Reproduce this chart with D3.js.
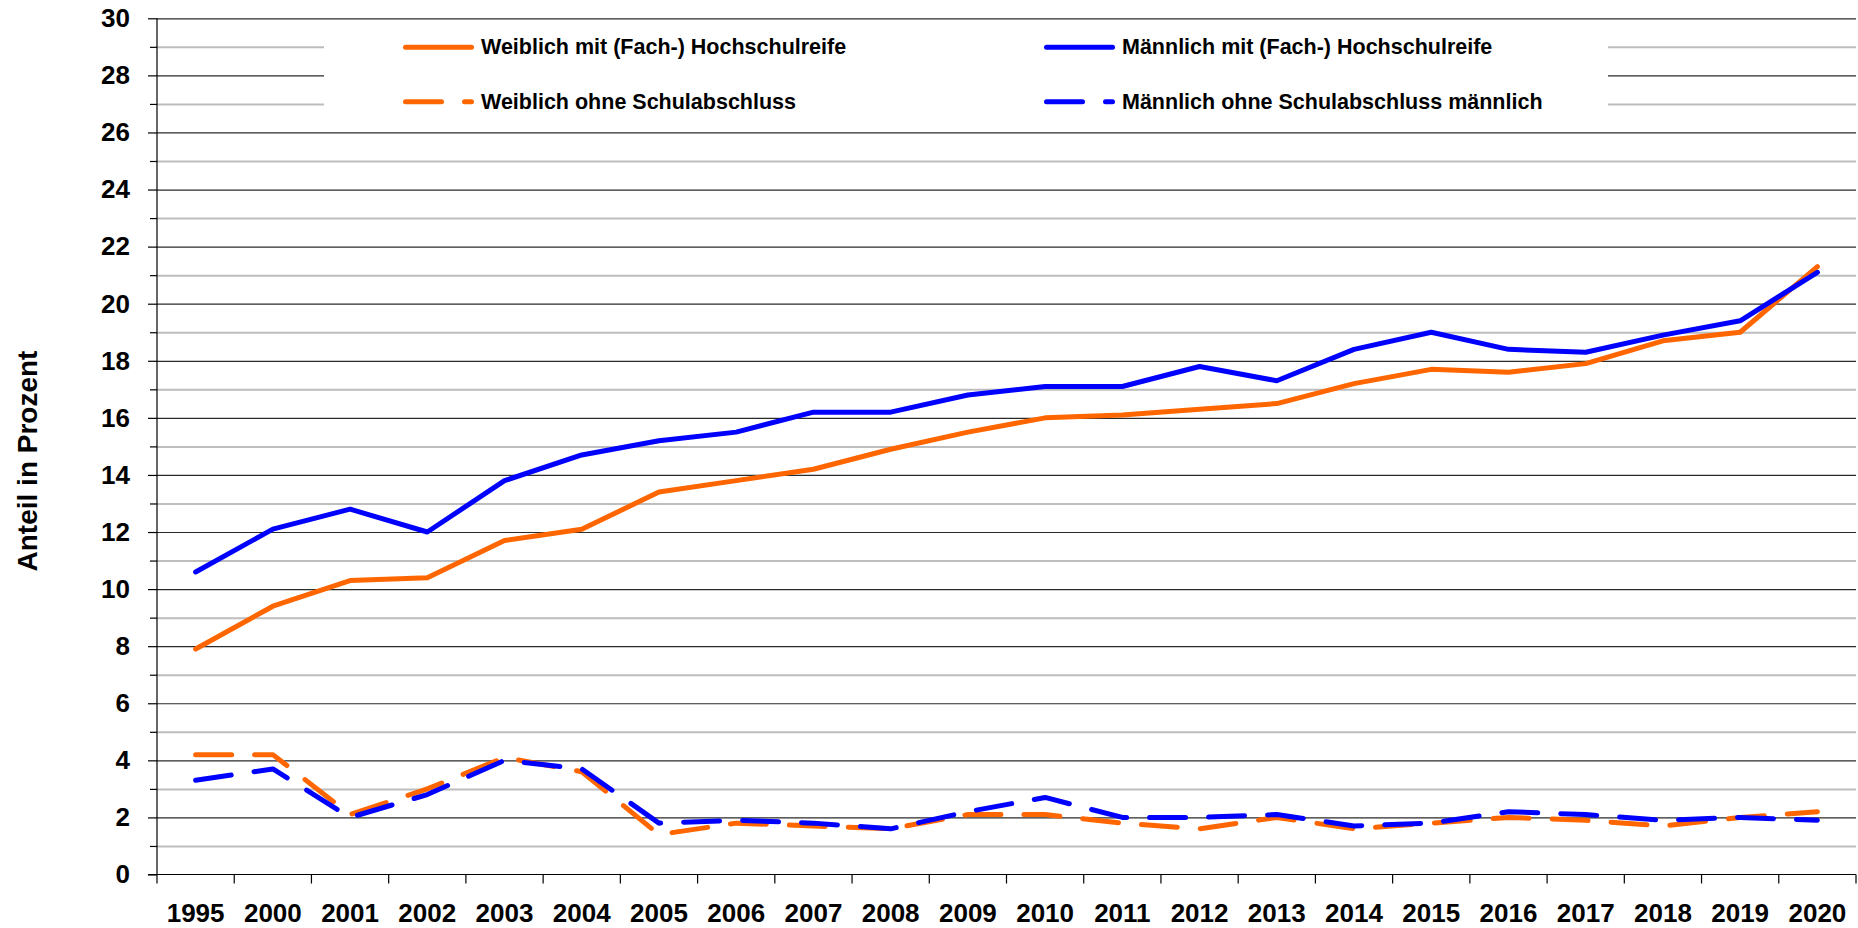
<!DOCTYPE html>
<html>
<head>
<meta charset="utf-8">
<script src="https://cdn.jsdelivr.net/npm/d3@7"></script>
<style>
  body { margin: 0; background: #fff; }
  svg { display: block; font-family: "Liberation Sans", Arial, sans-serif; font-weight: bold; }
</style>
</head>
<body>
<svg id="plot"></svg>
<script>
// categories (x axis)
const years = ["1995", "2000", "2001", "2002", "2003", "2004", "2005", "2006", "2007", "2008", "2009",
               "2010", "2011", "2012", "2013", "2014", "2015", "2016", "2017", "2018", "2019", "2020"];

// series values in percent
const weiblichMit = [7.9, 9.4, 10.3, 10.4, 11.7, 12.1, 13.4, 13.8, 14.2, 14.9, 15.5,
                     16.0, 16.1, 16.3, 16.5, 17.2, 17.7, 17.6, 17.9, 18.7, 19.0, 21.3];
const maennlichMit = [10.6, 12.1, 12.8, 12.0, 13.8, 14.7, 15.2, 15.5, 16.2, 16.2, 16.8,
                      17.1, 17.1, 17.8, 17.3, 18.4, 19.0, 18.4, 18.3, 18.9, 19.4, 21.1];
const weiblichOhne = [4.2, 4.2, 2.1, 3.0, 4.1, 3.6, 1.4, 1.8, 1.7, 1.6, 2.1,
                      2.1, 1.8, 1.6, 2.0, 1.6, 1.8, 2.0, 1.9, 1.7, 2.0, 2.2];
const maennlichOhne = [3.3, 3.7, 2.0, 2.8, 4.0, 3.7, 1.8, 1.9, 1.8, 1.6, 2.2,
                       2.7, 2.0, 2.0, 2.1, 1.7, 1.8, 2.2, 2.1, 1.9, 2.0, 1.9];

// legend labels
const seriesNames = ["Weiblich mit (Fach-) Hochschulreife", "Männlich mit (Fach-) Hochschulreife",
                     "Weiblich ohne Schulabschluss", "Männlich ohne Schulabschluss männlich"];

// y tick values
const majorTicks = d3.range(0, 31, 2);
const minorTicks = d3.range(1, 30, 2);

const W = 1858, H = 928;
const plotLeft = 157, plotRight = 1856, plotTop = 18.3, plotBottom = 874.5;

const svg = d3.select("#plot").attr("width", W).attr("height", H);

const x = d3.scaleBand().domain(years).range([plotLeft, plotRight]).padding(0);
const y = d3.scaleLinear().domain([0, 30]).range([plotBottom, plotTop]);
const cx = d => x(d) + x.bandwidth() / 2;

// minor gridlines (odd values)
svg.append("g")
    .attr("transform", "translate(" + plotLeft + ",0)")
    .call(d3.axisLeft(y).tickValues(minorTicks).tickSize(-(plotRight - plotLeft)).tickFormat(""))
    .call(g => g.select(".domain").remove())
    .call(g => g.selectAll("line").attr("stroke", "#bdbdbd").attr("stroke-width", 2));

// major gridlines (even values)
svg.append("g")
    .attr("transform", "translate(" + plotLeft + ",0)")
    .call(d3.axisLeft(y).tickValues(majorTicks.filter(v => v > 0)).tickSize(-(plotRight - plotLeft)).tickFormat(""))
    .call(g => g.select(".domain").remove())
    .call(g => g.selectAll("line").attr("stroke", "#2a2a2a").attr("stroke-width", 1.2));

// minor tick marks
svg.append("g")
    .attr("transform", "translate(" + plotLeft + ",0)")
    .call(d3.axisLeft(y).tickValues(minorTicks).tickSize(7).tickFormat(""))
    .call(g => g.select(".domain").remove())
    .call(g => g.selectAll("line").attr("stroke", "#000").attr("stroke-width", 1.2));

// y axis with labels
svg.append("g")
    .attr("transform", "translate(" + plotLeft + ",0)")
    .call(d3.axisLeft(y).tickValues(majorTicks).tickSize(9).tickPadding(18).tickSizeOuter(0))
    .call(g => g.select(".domain").attr("d", "M0," + plotTop + "V" + (plotBottom + 9)).attr("stroke", "#000").attr("stroke-width", 1.2))
    .call(g => g.selectAll("line").attr("stroke", "#000").attr("stroke-width", 1.2))
    .call(g => g.selectAll("text").attr("font-size", 26).attr("font-weight", "bold")
                 .attr("font-family", "Liberation Sans, Arial, sans-serif").attr("fill", "#000"));

// x axis with labels at category centers
svg.append("g")
    .attr("transform", "translate(0," + plotBottom + ")")
    .call(d3.axisBottom(x).tickSize(0).tickPadding(29))
    .call(g => g.select(".domain").attr("d", "M" + (plotLeft - 9) + ",0H" + plotRight).attr("stroke", "#000").attr("stroke-width", 1.2))
    .call(g => g.selectAll("text").attr("font-size", 26).attr("font-weight", "bold")
                 .attr("font-family", "Liberation Sans, Arial, sans-serif").attr("fill", "#000"));

// x tick marks at category boundaries
svg.append("g")
  .selectAll("line")
  .data(years.slice(1).concat(["end"]))
  .enter().append("line")
    .attr("x1", d => d === "end" ? plotRight : x(d))
    .attr("x2", d => d === "end" ? plotRight : x(d))
    .attr("y1", plotBottom)
    .attr("y2", plotBottom + 9)
    .attr("stroke", "#000")
    .attr("stroke-width", 1.2);

// axis title
svg.append("text")
    .attr("transform", "translate(27,461) rotate(-90)")
    .attr("text-anchor", "middle")
    .attr("dominant-baseline", "central")
    .attr("font-size", 28)
    .text("Anteil in Prozent");

// series
const series = [
  {name: seriesNames[0], values: weiblichMit, color: "#ff6600", dash: null},
  {name: seriesNames[1], values: maennlichMit, color: "#0000ff", dash: null},
  {name: seriesNames[2], values: weiblichOhne, color: "#ff6600", dash: "36,23"},
  {name: seriesNames[3], values: maennlichOhne, color: "#0000ff", dash: "36,23"}
];

const line = d3.line()
    .x((d, i) => cx(years[i]))
    .y(d => y(d));

svg.append("g")
  .selectAll("path")
  .data(series)
  .enter().append("path")
    .attr("d", d => line(d.values))
    .attr("fill", "none")
    .attr("stroke", d => d.color)
    .attr("stroke-width", 5)
    .attr("stroke-linejoin", "round")
    .attr("stroke-linecap", "round")
    .attr("stroke-dasharray", d => d.dash);

// legend
svg.append("rect")
    .attr("x", 324).attr("y", y(29.8))
    .attr("width", 1608 - 324).attr("height", y(26.2) - y(29.8))
    .attr("fill", "#fff");

const legendPos = [
  {x: 403, y: 47.3}, {x: 1044, y: 47.3},
  {x: 403, y: 101.7}, {x: 1044, y: 101.7}
];

const legend = svg.append("g")
  .selectAll("g")
  .data(series)
  .enter().append("g")
    .attr("transform", (d, i) => "translate(" + legendPos[i].x + "," + legendPos[i].y + ")");

legend.append("line")
    .attr("x1", 2.5).attr("x2", 68.5)
    .attr("y1", 0).attr("y2", 0)
    .attr("stroke", d => d.color)
    .attr("stroke-width", 5)
    .attr("stroke-linecap", "round")
    .attr("stroke-dasharray", d => d.dash);

legend.append("text")
    .attr("x", 78)
    .attr("y", 0)
    .attr("dominant-baseline", "central")
    .attr("font-size", 21.5)
    .text(d => d.name);
</script>
</body>
</html>
